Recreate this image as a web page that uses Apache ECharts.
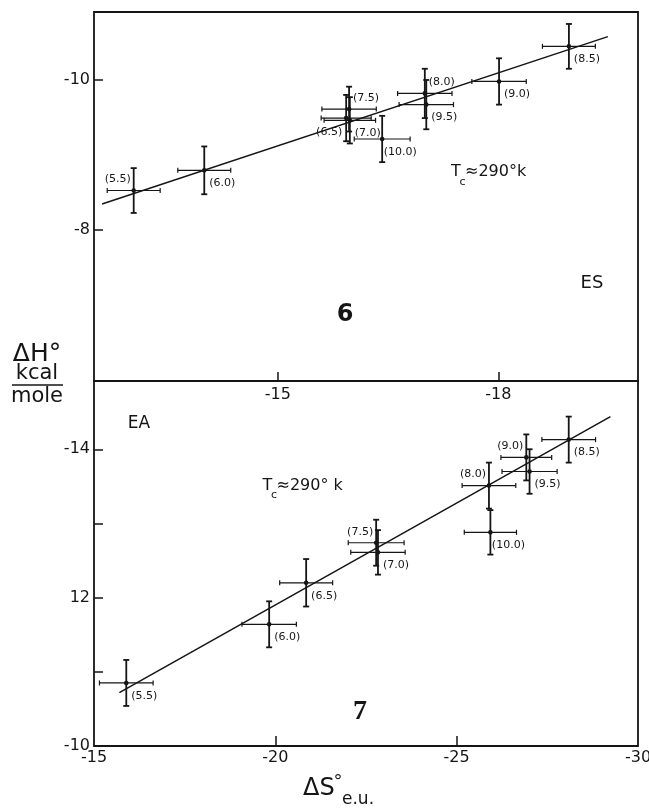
<!DOCTYPE html>
<html><head><meta charset="utf-8">
<script src="https://cdn.jsdelivr.net/npm/echarts@6/dist/echarts.min.js"></script>
<style>html,body{margin:0;padding:0;background:#fff}#c{width:649px;height:809px}</style>
</head><body><div id="c"></div>
<script>
// pH labels of the points
const pH = ['5.5','6.0','6.5','7.0','7.5','8.0','8.5','9.0','9.5','10.0'];

// Panel 6 (ES): ΔS°, ΔH° and their error half-widths
const esS  = [-13.04, -14.00, -15.93, -15.98, -15.97, -17.00, -18.96, -18.01, -17.02, -16.42];
const esH  = [-8.52, -8.79, -9.49, -9.46, -9.61, -9.82, -10.45, -9.98, -9.67, -9.21];
const esSErr = [0.36, 0.36, 0.34, 0.35, 0.37, 0.37, 0.36, 0.37, 0.37, 0.38];
const esHErr = [0.30, 0.32, 0.31, 0.31, 0.30, 0.33, 0.30, 0.31, 0.33, 0.31];
const esFitS = [-12.61, -19.49];
const esFitH = [-8.34, -10.58];

// Panel 7 (EA)
const eaS  = [-15.89, -19.83, -20.85, -22.83, -22.78, -25.89, -28.09, -26.92, -27.01, -25.93];
const eaH  = [-10.85, -11.64, -12.20, -12.61, -12.74, -13.51, -14.13, -13.89, -13.70, -12.88];
const eaSErr = [0.74, 0.75, 0.73, 0.75, 0.77, 0.74, 0.74, 0.70, 0.76, 0.72];
const eaHErr = [0.31, 0.31, 0.32, 0.30, 0.31, 0.31, 0.31, 0.31, 0.30, 0.30];
const eaFitS = [-15.70, -29.24];
const eaFitH = [-10.72, -14.44];

// tick values / labels
const topXTicks = [-15, -18];
const topYTicks = [-10, -8];
const botXTicks = [-20, -25];
const botXLabels = [-15, -20, -25, -30];
const botYTicks = [-14, -13, -12, -11];
const botYLabels = [-14, -12, -10];

// label placement codes (style)
const placeES = ['la','rb','lb','rb','ra','ra','rb','rb','rb','rb'];
const placeEA = ['rb','rb','rb','rb','la','la','rb','la','rb','rb'];
const OFF = {rb:[18,13], la:[-16,-11], lb:[-17,14], ra:[17,-11]};

const INK = '#151515';
const FONT = 'DejaVu Sans';

function errRender(place) {
  return function (params, api) {
    const s = api.value(0), h = api.value(1), ds = api.value(2), dh = api.value(3);
    const c = api.coord([s, h]);
    const a = api.coord([s + ds, h]);
    const b = api.coord([s - ds, h]);
    const t = api.coord([s, h - dh]);
    const u = api.coord([s, h + dh]);
    const x0 = Math.min(a[0], b[0]), x1 = Math.max(a[0], b[0]);
    const y0 = Math.min(t[1], u[1]), y1 = Math.max(t[1], u[1]);
    const vs = {stroke: INK, lineWidth: 1.8};
    const hs = {stroke: INK, lineWidth: 1.2};
    const o = OFF[place[params.dataIndex]];
    return {
      type: 'group',
      children: [
        {type: 'line', shape: {x1: c[0], y1: y0, x2: c[0], y2: y1}, style: vs},
        {type: 'line', shape: {x1: c[0] - 3, y1: y0, x2: c[0] + 3, y2: y0}, style: vs},
        {type: 'line', shape: {x1: c[0] - 3, y1: y1, x2: c[0] + 3, y2: y1}, style: vs},
        {type: 'line', shape: {x1: x0, y1: c[1], x2: x1, y2: c[1]}, style: hs},
        {type: 'line', shape: {x1: x0, y1: c[1] - 2.5, x2: x0, y2: c[1] + 2.5}, style: hs},
        {type: 'line', shape: {x1: x1, y1: c[1] - 2.5, x2: x1, y2: c[1] + 2.5}, style: hs},
        {type: 'circle', shape: {cx: c[0], cy: c[1], r: 2.3}, style: {fill: INK}},
        {type: 'text', x: c[0] + o[0], y: c[1] + o[1],
          style: {text: '(' + pH[params.dataIndex] + ')', fill: INK, font: '11px ' + FONT,
                  align: 'center', verticalAlign: 'middle'}}
      ]
    };
  };
}

const tickStyle = {color: INK, width: 1.5};
const labelBase = {color: INK, fontSize: 16, fontFamily: FONT};

const option = {
  backgroundColor: '#fff',
  animation: false,
  grid: [
    {left: 94, top: 12, width: 544, height: 369, show: true, borderColor: INK, borderWidth: 1.8, containLabel: false, outerBoundsMode: 'none'},
    {left: 94, top: 381, width: 544, height: 365, show: true, borderColor: INK, borderWidth: 1.8, containLabel: false, outerBoundsMode: 'none'}
  ],
  xAxis: [
    {gridIndex: 0, type: 'value', min: -19.9, max: -12.5, inverse: true, position: 'bottom',
     axisLine: {show: false}, splitLine: {show: false},
     axisTick: {show: true, inside: true, length: 9, customValues: topXTicks, lineStyle: tickStyle},
     axisLabel: Object.assign({customValues: topXTicks, margin: 6}, labelBase)},
    {gridIndex: 1, type: 'value', min: -30, max: -15, inverse: true, position: 'bottom',
     axisLine: {show: false}, splitLine: {show: false},
     axisTick: {show: true, inside: true, length: 10, customValues: botXTicks, lineStyle: tickStyle},
     axisLabel: Object.assign({customValues: botXLabels, margin: 4, showMinLabel: true, showMaxLabel: true}, labelBase)}
  ],
  yAxis: [
    {gridIndex: 0, type: 'value', min: -10.91, max: -5.97, inverse: true,
     axisLine: {show: false}, splitLine: {show: false},
     axisTick: {show: true, inside: true, length: 9, customValues: topYTicks, lineStyle: tickStyle},
     axisLabel: Object.assign({customValues: topYTicks, margin: 4}, labelBase)},
    {gridIndex: 1, type: 'value', min: -14.92, max: -10, inverse: true,
     axisLine: {show: false}, splitLine: {show: false},
     axisTick: {show: true, inside: true, length: 9, customValues: botYTicks, lineStyle: tickStyle},
     axisLabel: Object.assign({customValues: botYLabels, margin: 4, showMaxLabel: true,
       formatter: v => (v === -12 ? '12' : String(v))}, labelBase)}
  ],
  series: [
    {type: 'line', xAxisIndex: 0, yAxisIndex: 0, data: esFitS.map((s, i) => [s, esFitH[i]]),
     symbol: 'none', lineStyle: {color: INK, width: 1.5}, z: 2},
    {type: 'line', xAxisIndex: 1, yAxisIndex: 1, data: eaFitS.map((s, i) => [s, eaFitH[i]]),
     symbol: 'none', lineStyle: {color: INK, width: 1.5}, z: 2},
    {type: 'custom', xAxisIndex: 0, yAxisIndex: 0, renderItem: errRender(placeES),
     data: esS.map((s, i) => [s, esH[i], esSErr[i], esHErr[i]]), encode: {x: 0, y: 1}, z: 3},
    {type: 'custom', xAxisIndex: 1, yAxisIndex: 1, renderItem: errRender(placeEA),
     data: eaS.map((s, i) => [s, eaH[i], eaSErr[i], eaHErr[i]]), encode: {x: 0, y: 1}, z: 3}
  ],
  graphic: [
    // panel 6 annotations
    {type: 'text', x: 456, y: 172, style: {text: 'T', font: '16px ' + FONT, fill: INK, align: 'center', verticalAlign: 'middle'}},
    {type: 'text', x: 462.5, y: 182, style: {text: 'c', font: '11px ' + FONT, fill: INK, align: 'center', verticalAlign: 'middle'}},
    {type: 'text', x: 465, y: 172, style: {text: '≈290°k', font: '16px ' + FONT, fill: INK, align: 'left', verticalAlign: 'middle'}},
    {type: 'text', x: 592, y: 283, style: {text: 'ES', font: '18px ' + FONT, fill: INK, align: 'center', verticalAlign: 'middle'}},
    {type: 'text', x: 345, y: 315, style: {text: '6', font: 'bold 24px ' + FONT, fill: INK, align: 'center', verticalAlign: 'middle'}},
    // panel 7 annotations
    {type: 'text', x: 139, y: 424, style: {text: 'EA', font: '17px ' + FONT, fill: INK, align: 'center', verticalAlign: 'middle'}},
    {type: 'text', x: 267.5, y: 486, style: {text: 'T', font: '16px ' + FONT, fill: INK, align: 'center', verticalAlign: 'middle'}},
    {type: 'text', x: 274, y: 495, style: {text: 'c', font: '11px ' + FONT, fill: INK, align: 'center', verticalAlign: 'middle'}},
    {type: 'text', x: 276.5, y: 486, style: {text: '≈290° k', font: '16px ' + FONT, fill: INK, align: 'left', verticalAlign: 'middle'}},
    {type: 'text', x: 360, y: 712, style: {text: '7', font: 'bold 28px "Liberation Serif"', fill: INK, align: 'center', verticalAlign: 'middle'}},
    // y-axis title
    {type: 'text', x: 37, y: 354, style: {text: 'ΔH°', font: '25px ' + FONT, fill: INK, align: 'center', verticalAlign: 'middle'}},
    {type: 'text', x: 37, y: 374, style: {text: 'kcal', font: '21px ' + FONT, fill: INK, align: 'center', verticalAlign: 'middle'}},
    {type: 'line', shape: {x1: 12, y1: 385, x2: 63, y2: 385}, style: {stroke: INK, lineWidth: 1.6}},
    {type: 'text', x: 37, y: 397, style: {text: 'mole', font: '21px ' + FONT, fill: INK, align: 'center', verticalAlign: 'middle'}},
    // x-axis title
    {type: 'text', x: 303, y: 789, style: {text: 'ΔS', font: '24px ' + FONT, fill: INK, align: 'left', verticalAlign: 'middle'}},
    {type: 'text', x: 338, y: 782, style: {text: '°', font: '18px ' + FONT, fill: INK, align: 'center', verticalAlign: 'middle'}},
    {type: 'text', x: 342, y: 800, style: {text: 'e.u.', font: '17px ' + FONT, fill: INK, align: 'left', verticalAlign: 'middle'}}
  ]
};

const chart = echarts.init(document.getElementById('c'), null, {renderer: 'canvas'});
chart.setOption(option);
</script>
</body></html>
